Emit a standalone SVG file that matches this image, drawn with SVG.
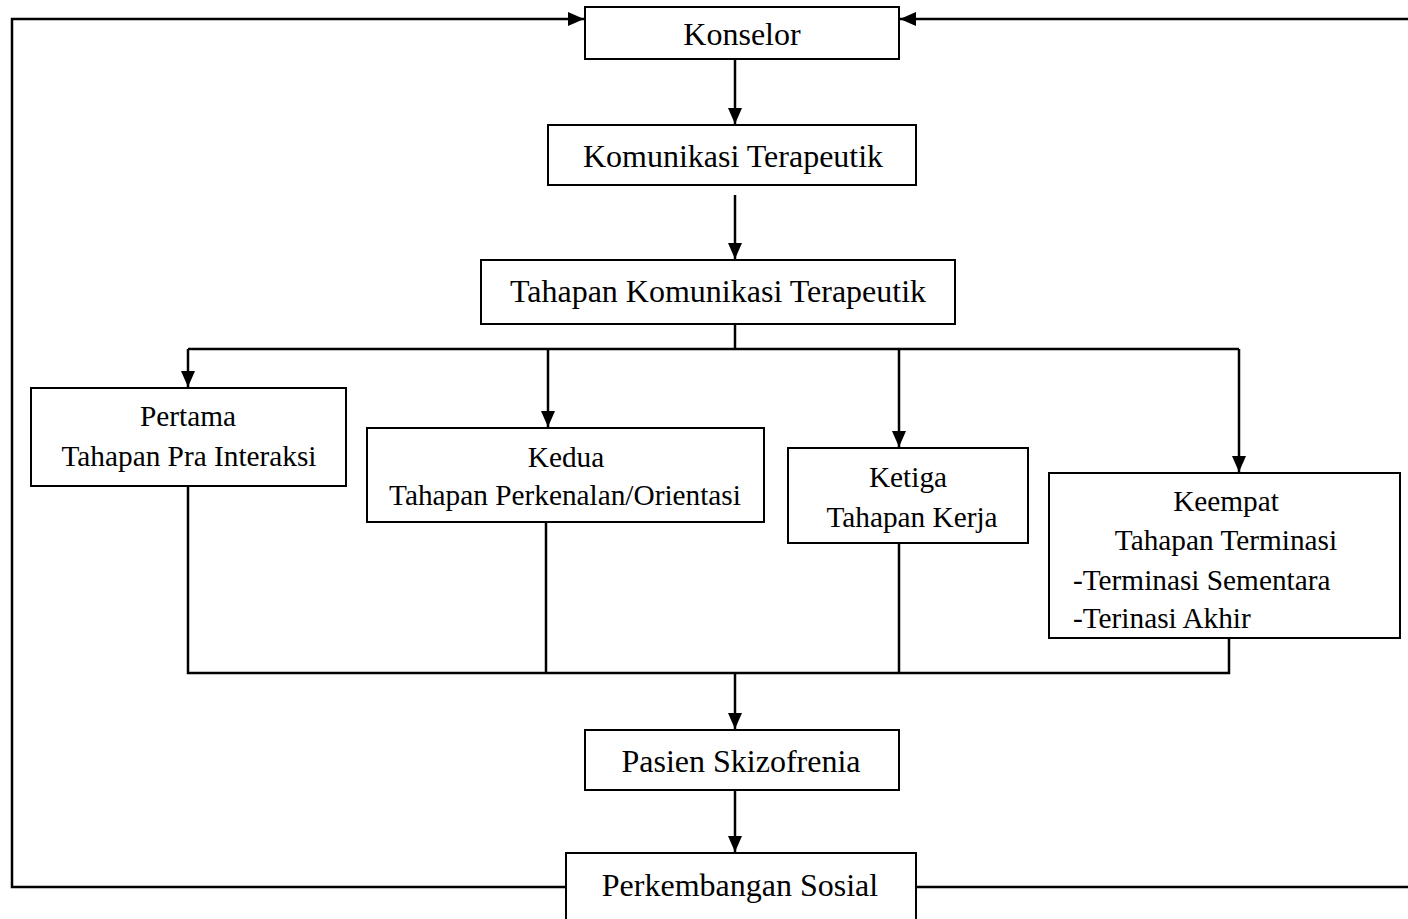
<svg xmlns="http://www.w3.org/2000/svg" width="1408" height="919" viewBox="0 0 1408 919">
<style>
.box{fill:#fff;stroke:#000;stroke-width:2}
.ln{fill:none;stroke:#000;stroke-width:2.5}
.t{font-family:"Liberation Serif","Times New Roman",serif;font-size:32px;fill:#000;text-anchor:middle}
.s{font-family:"Liberation Serif","Times New Roman",serif;font-size:29.3px;fill:#000;text-anchor:middle}
.sl{font-family:"Liberation Serif","Times New Roman",serif;font-size:29.3px;fill:#000}
</style>
<defs>
<marker id="ah" viewBox="0 0 16 14" refX="16" refY="7" markerWidth="16" markerHeight="14" markerUnits="userSpaceOnUse" orient="auto">
<path d="M0,0 L16,7 L0,14 Z" fill="#000"/>
</marker>
</defs>
<rect width="1408" height="919" fill="#fff"/>
<g id="connectors">
<path class="ln" d="M566,887 H12 V19 H584" marker-end="url(#ah)"/>
<path class="ln" d="M916,887 H1410"/>
<path class="ln" d="M1410,19 H900" marker-end="url(#ah)"/>
<path class="ln" d="M735,59 V124" marker-end="url(#ah)"/>
<path class="ln" d="M735,195 V259" marker-end="url(#ah)"/>
<path class="ln" d="M735,324 V349"/>
<path class="ln" d="M188,349 H1239"/>
<path class="ln" d="M188,349 V387" marker-end="url(#ah)"/>
<path class="ln" d="M548,349 V427" marker-end="url(#ah)"/>
<path class="ln" d="M899,349 V447" marker-end="url(#ah)"/>
<path class="ln" d="M1239,349 V472" marker-end="url(#ah)"/>
<path class="ln" d="M188,486 V673 H1229 V638"/>
<path class="ln" d="M546,522 V673"/>
<path class="ln" d="M899,543 V673"/>
<path class="ln" d="M735,673 V729" marker-end="url(#ah)"/>
<path class="ln" d="M735,790 V852" marker-end="url(#ah)"/>
</g>
<g id="konselor">
<rect class="box" x="585" y="7" width="314" height="52"/>
<text class="t" x="742" y="45">Konselor</text>
</g>
<g id="komunikasi">
<rect class="box" x="548" y="125" width="368" height="60"/>
<text class="t" x="733" y="167">Komunikasi Terapeutik</text>
</g>
<g id="tahapan">
<rect class="box" x="481" y="260" width="474" height="64"/>
<text class="t" x="718" y="302">Tahapan Komunikasi Terapeutik</text>
</g>
<g id="pertama">
<rect class="box" x="31" y="388" width="315" height="98"/>
<text class="s" x="188" y="426">Pertama</text>
<text class="s" x="189" y="466">Tahapan Pra Interaksi</text>
</g>
<g id="kedua">
<rect class="box" x="367" y="428" width="397" height="94"/>
<text class="s" x="566" y="467">Kedua</text>
<text class="s" x="565" y="505">Tahapan Perkenalan/Orientasi</text>
</g>
<g id="ketiga">
<rect class="box" x="788" y="448" width="240" height="95"/>
<text class="s" x="908" y="487">Ketiga</text>
<text class="s" x="912" y="527">Tahapan Kerja</text>
</g>
<g id="keempat">
<rect class="box" x="1049" y="473" width="351" height="165"/>
<text class="s" x="1226" y="511">Keempat</text>
<text class="s" x="1226" y="550">Tahapan Terminasi</text>
<text class="sl" x="1073" y="590">-Terminasi Sementara</text>
<text class="sl" x="1073" y="628">-Terinasi Akhir</text>
</g>
<g id="pasien">
<rect class="box" x="585" y="730" width="314" height="60"/>
<text class="t" x="741" y="772">Pasien Skizofrenia</text>
</g>
<g id="perkembangan">
<rect class="box" x="566" y="853" width="350" height="70"/>
<text class="t" x="740" y="896">Perkembangan Sosial</text>
</g>
</svg>
